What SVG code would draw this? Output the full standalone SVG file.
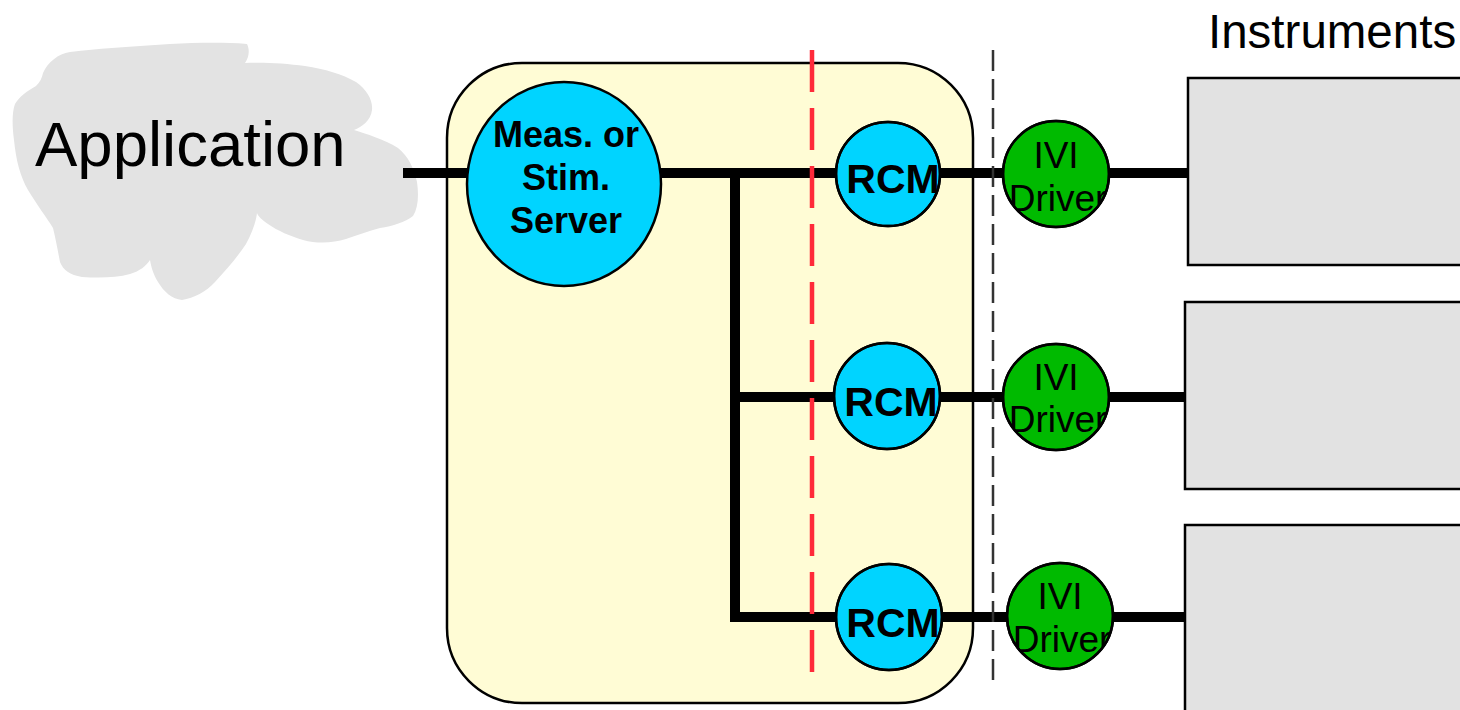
<svg xmlns="http://www.w3.org/2000/svg" width="1460" height="710" viewBox="0 0 1460 710">
  <style>
    .wire { fill: none; stroke: #000; stroke-width: 10; }
    .cyan { fill: #00d4ff; stroke: #000; stroke-width: 2.5; }
    .green { fill: #00ba00; stroke: #000; stroke-width: 2.5; }
    .rim { fill: none; stroke: #000; stroke-width: 2.5; }
    .instr { fill: #e2e2e2; stroke: #000; stroke-width: 2.5; }
    .bold { font-family: "Liberation Sans", Arial, sans-serif; font-weight: bold; fill: #000; text-anchor: middle; }
    .plain { font-family: "Liberation Sans", Arial, sans-serif; fill: #000; }
    .ivi { font-family: "Liberation Sans", Arial, sans-serif; fill: #000; text-anchor: middle; font-size: 37px; }
  </style>
  <defs>
    <clipPath id="clipIvi1"><circle cx="1056" cy="174" r="53"/></clipPath>
    <clipPath id="clipIvi2"><circle cx="1056" cy="397" r="53"/></clipPath>
    <clipPath id="clipIvi3"><circle cx="1060" cy="616" r="53"/></clipPath>
    <clipPath id="clipRcm1"><circle cx="888" cy="174" r="52"/></clipPath>
    <clipPath id="clipRcm2"><circle cx="887" cy="396" r="53"/></clipPath>
    <clipPath id="clipRcm3"><circle cx="889" cy="617" r="53"/></clipPath>
  </defs>

  <rect width="1460" height="710" fill="#fff"/>

  <!-- application cloud -->
  <g id="application">
    <path fill="#e3e3e3" d="M43,73 C48,62 58,54 70,52 C85,50 98,49 112,48 C130,47 150,45 170,44 C195,43 220,42 247,44 C250,50 249,57 245,63 C260,62 285,63 305,66 C325,69 342,74 356,82 C367,90 373,100 372,110 C371,120 362,127 354,130 C366,134 384,139 398,148 C408,156 414,168 417,182 C419,196 418,208 413,216 C405,222 393,226 380,228 C368,231 358,235 346,239 C333,243 318,244 303,240 C290,236 278,231 268,224 C262,220 258,216 257,213 C256,222 252,233 246,244 C238,256 228,268 215,282 C206,292 194,298 182,300 C172,299 164,292 158,282 C153,274 151,266 150,260 C146,266 140,271 130,274 C116,278 98,278 82,277 C70,275 63,270 60,262 C58,252 56,240 53,228 C47,218 37,205 28,190 C20,176 16,160 14,140 C12,125 12,112 15,104 C19,97 27,91 36,86 C40,82 42,78 43,73 Z"/>
    <text class="plain" x="35" y="166" font-size="63.5">Application</text>
  </g>

  <!-- system controller enclosure -->
  <g id="controller">
    <rect x="447" y="63" width="526" height="640" rx="75" ry="75" fill="#fffcd5" stroke="#000" stroke-width="2.5"/>
  </g>

  <!-- connectors -->
  <g id="connectors">
    <line class="wire" x1="403" y1="173" x2="1188" y2="173"/>
    <polyline class="wire" points="735,173 735,617 840,617"/>
    <line class="wire" x1="735" y1="397" x2="1185" y2="397"/>
    <line class="wire" x1="840" y1="617" x2="1185" y2="617"/>
  </g>

  <!-- boundary markers -->
  <g id="boundaries">
    <line x1="812" y1="50" x2="812" y2="680" stroke="#ff2a3a" stroke-width="4.5" stroke-dasharray="42 16"/>
    <line x1="993" y1="50" x2="993" y2="688" stroke="#333" stroke-width="2.5" stroke-dasharray="21 8"/>
  </g>

  <g id="server">
    <ellipse class="cyan" cx="564" cy="184" rx="97" ry="102"/>
    <text class="bold" x="566" y="147" font-size="36">Meas. or</text>
    <text class="bold" x="566" y="190" font-size="36">Stim.</text>
    <text class="bold" x="566" y="233" font-size="36">Server</text>
  </g>

  <g id="rcm1">
    <circle class="cyan" cx="888" cy="174" r="52"/>
    <text class="bold" x="893" y="193" font-size="41" clip-path="url(#clipRcm1)">RCM</text>
    <circle class="rim" cx="888" cy="174" r="52"/>
  </g>
  <g id="rcm2">
    <circle class="cyan" cx="887" cy="396" r="53"/>
    <text class="bold" x="891" y="416" font-size="41" clip-path="url(#clipRcm2)">RCM</text>
    <circle class="rim" cx="887" cy="396" r="53"/>
  </g>
  <g id="rcm3">
    <circle class="cyan" cx="889" cy="617" r="53"/>
    <text class="bold" x="893" y="637" font-size="41" clip-path="url(#clipRcm3)">RCM</text>
    <circle class="rim" cx="889" cy="617" r="53"/>
  </g>

  <g id="ivi1">
    <circle class="green" cx="1056" cy="174" r="53"/>
    <g clip-path="url(#clipIvi1)">
      <text class="ivi" x="1056" y="168">IVI</text>
      <text class="ivi" x="1058" y="211">Driver</text>
    </g>
    <circle class="rim" cx="1056" cy="174" r="53"/>
  </g>
  <g id="ivi2">
    <circle class="green" cx="1056" cy="397" r="53"/>
    <g clip-path="url(#clipIvi2)">
      <text class="ivi" x="1056" y="390">IVI</text>
      <text class="ivi" x="1058" y="432">Driver</text>
    </g>
    <circle class="rim" cx="1056" cy="397" r="53"/>
  </g>
  <g id="ivi3">
    <circle class="green" cx="1060" cy="616" r="53"/>
    <g clip-path="url(#clipIvi3)">
      <text class="ivi" x="1060" y="609">IVI</text>
      <text class="ivi" x="1062" y="652">Driver</text>
    </g>
    <circle class="rim" cx="1060" cy="616" r="53"/>
  </g>

  <g id="instruments">
    <text class="plain" x="1208" y="48" font-size="47.5">Instruments</text>
    <rect class="instr" x="1188" y="78" width="290" height="187"/>
    <rect class="instr" x="1185" y="302" width="290" height="187"/>
    <rect class="instr" x="1185" y="525" width="290" height="200"/>
  </g>
</svg>
